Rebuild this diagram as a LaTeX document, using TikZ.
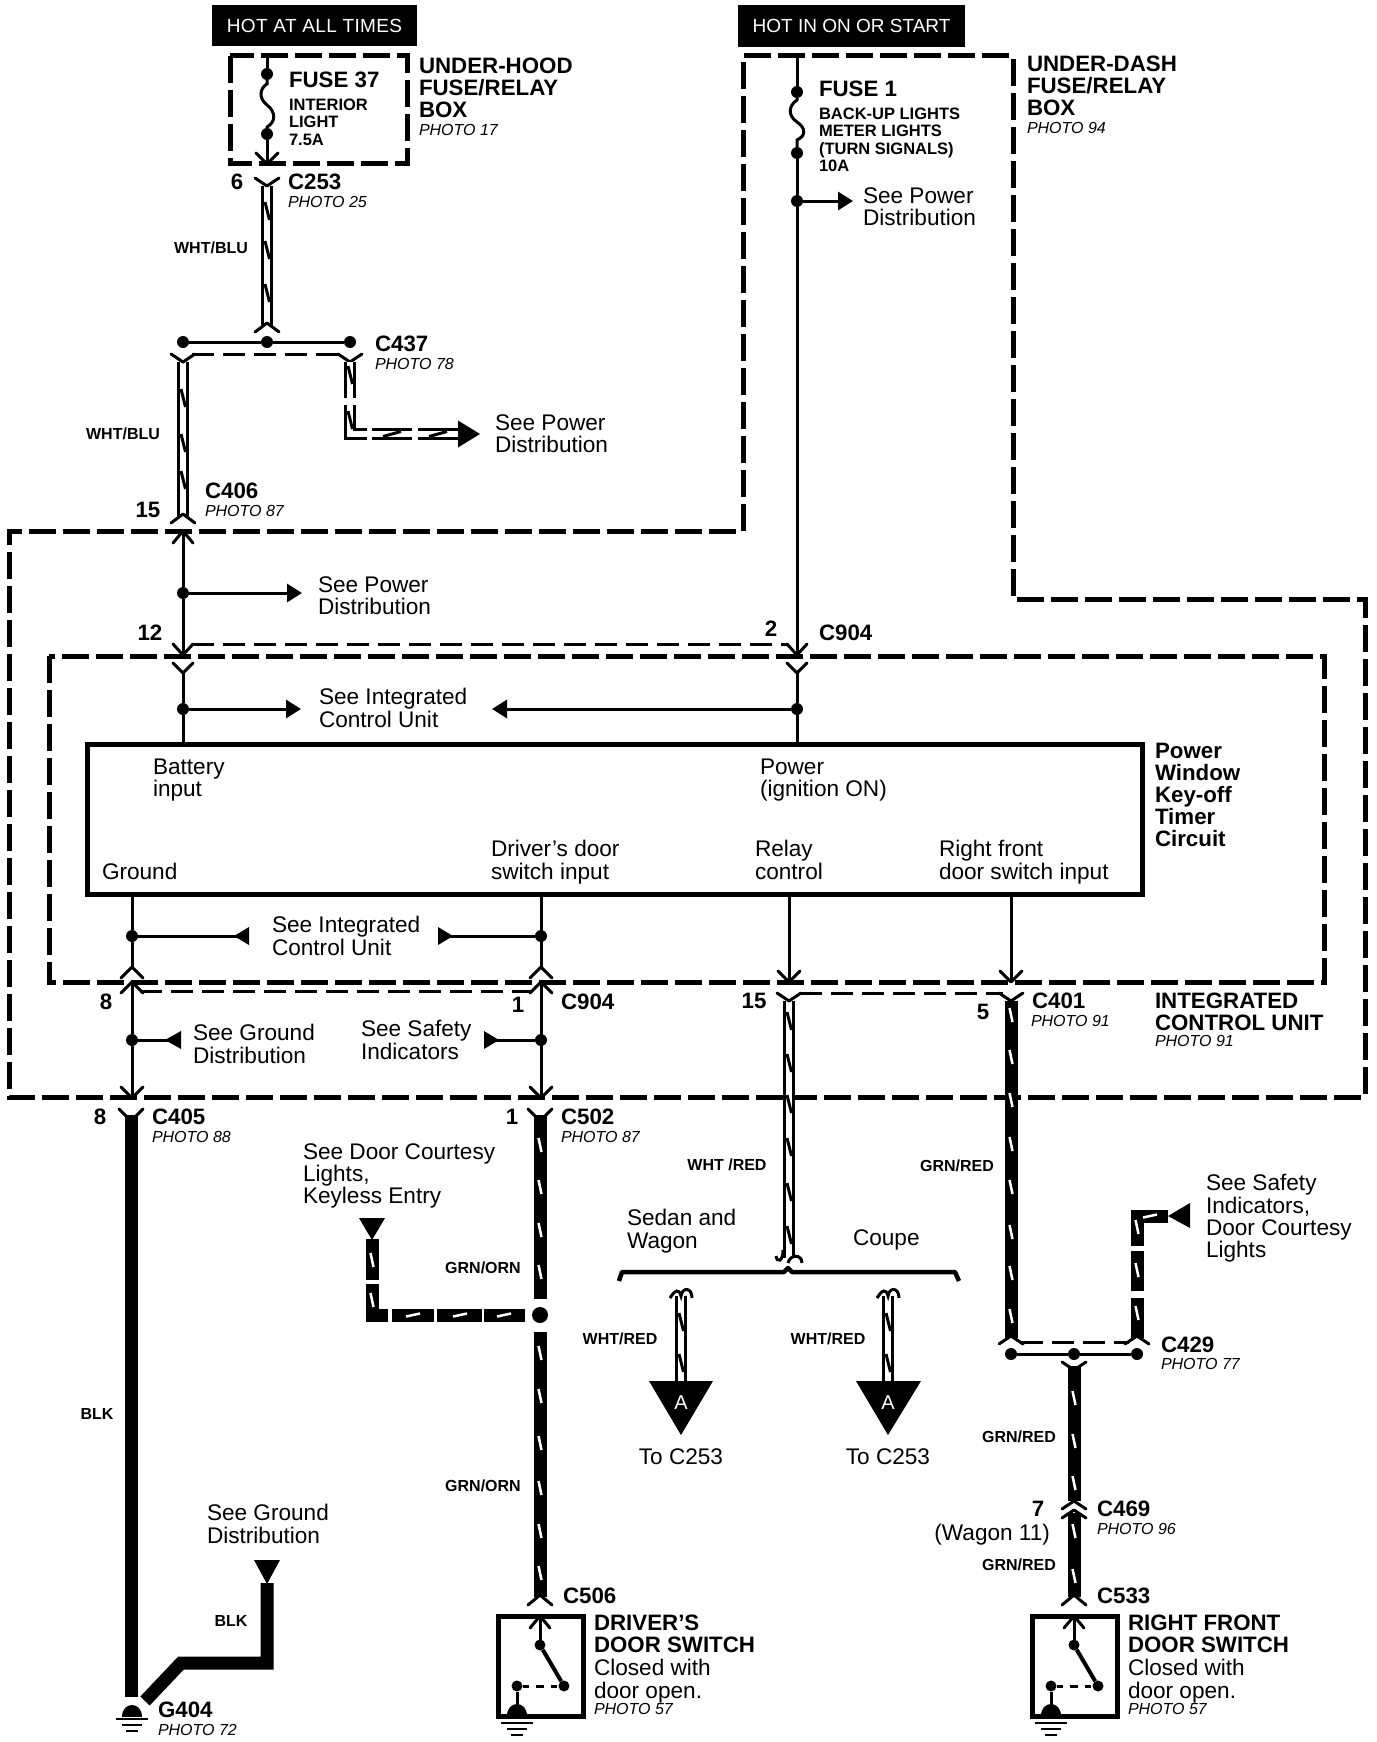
\documentclass[tikz,border=0pt]{standalone}
\usepackage{fontspec}
\setmainfont{Liberation Sans}
\usetikzlibrary{arrows.meta}
\tikzset{
 txt/.style={inner sep=0pt,outer sep=0pt,anchor=north west,align=left,yshift=7.4pt,font=\fontsize{22.6}{22.2}\selectfont},
 bld/.style={inner sep=0pt,outer sep=0pt,anchor=north west,align=left,yshift=7.9pt,font=\fontsize{22.3}{22}\selectfont\bfseries},
 sbld/.style={inner sep=0pt,outer sep=0pt,anchor=north west,align=left,yshift=6pt,font=\fontsize{16.5}{17.3}\selectfont\bfseries},
 ital/.style={inner sep=0pt,outer sep=0pt,anchor=north west,yshift=5.8pt,font=\fontsize{16}{16}\selectfont\itshape},
 wlab/.style={inner sep=0pt,outer sep=0pt,anchor=north,yshift=5.8pt,font=\fontsize{16}{16}\selectfont\bfseries},
 ctxt/.style={txt,anchor=north,align=center},
 pin/.style={bld,anchor=north},
 hotbox/.style={fill=black,text=white,inner sep=0pt,outer sep=0pt},
 thin wire/.style={line width=3pt},
 dashbox/.style={line width=5pt,dash pattern=on 27pt off 7pt,miter limit=10},
 thindash/.style={line width=3pt,dash pattern=on 22pt off 9pt},
 wwire/.style={line width=3pt,double=white,double distance=5.5pt},
 bwire/.style={line width=13pt},
 wtick/.style={line width=3pt},
 btick/.style={line width=2.5pt,white},
 forkline/.style={line width=3pt,line join=round,line cap=round},
 jdot/.style={circle,fill=black,inner sep=0pt,outer sep=0pt,minimum size=12pt},
 bigdot/.style={jdot,minimum size=16pt},
 smalltri/.style={-{Triangle[length=15pt,width=18pt]}},
 bigtri/.style={-{Triangle[length=22pt,width=27pt]}},
 swbox/.style={draw,line width=5pt,inner sep=0pt,outer sep=0pt,minimum width=85pt,minimum height=100pt},
}
\newcommand\forkat[4]{\draw[forkline] (#1-#3,#2-#4) -- (#1,#2) -- (#1+#3,#2-#4);}
\newcommand\wtk[2]{\draw[wtick] (#1-2,#2-9) -- (#1+2.5,#2+9);}
\newcommand\wtkh[2]{\draw[wtick] (#1-9,#2+2.5) -- (#1+9,#2-2.5);}
\newcommand\btk[2]{\draw[btick] (#1-1.5,#2-7) -- (#1+1.5,#2+7);}
\newcommand\btkh[2]{\draw[btick] (#1-7,#2+1.5) -- (#1+7,#2-1.5);}
\newcommand\gnd[3]{% x, dome base y, first line y
 \fill (#1-10,#2) .. controls (#1-10,#2-16) and (#1+10,#2-16) .. (#1+10,#2) -- cycle;
 \draw[line width=2.5pt] (#1-16,#3) -- (#1+16,#3) (#1-10,#3+6) -- (#1+10,#3+6) (#1-6,#3+12) -- (#1+6,#3+12);}
\newcommand\doorsw[2]{% prefix, x
 \node[swbox] (#1box) at (#2+0.5,1666) {};
 \coordinate (#1top) at (#2,1616);
 \node[jdot,minimum size=11pt] (#1a) at (#2,1645) {};
 \node[jdot,minimum size=11pt] (#1b) at (#2+24,1686) {};
 \node[jdot,minimum size=11pt] (#1c) at (#2-23,1686) {};
 \coordinate (#1g) at (#2-23,1716);
 \draw[thin wire] (#1top) -- (#1a);
 \draw[line width=4pt] (#1a) -- (#1b);
 \draw[line width=3pt,dash pattern=on 6pt off 7pt on 8pt off 7pt] (#1c) -- (#1b);
 \draw[thin wire] (#1c) -- (#1g);
 \forkat{#2}{1616}{10}{-12}
 \gnd{#2-23}{1716}{1723}}
\begin{document}
\begin{tikzpicture}[x=1pt,y=-1pt]
\useasboundingbox (0,0) rectangle (1376,1742);
% dashed enclosures
\draw[dashbox] (230,56) rectangle (407,163);
\draw[dashbox] (743,531) -- (743,56) -- (1013,56) -- (1013,599) -- (1365,599) -- (1365,1097) -- (9,1097) -- (9,531) -- cycle;
\draw[dashbox] (49,656) rectangle (1324,982);
% header bars
\node[hotbox,minimum width=205pt,minimum height=41pt,font=\fontsize{19}{19}\selectfont\addfontfeature{LetterSpace=2}] (hot1) at (314.5,25.5) {HOT AT ALL TIMES};
\node[hotbox,minimum width=227pt,minimum height=42pt,font=\fontsize{19}{19}\selectfont] (hot2) at (851.5,26) {HOT IN ON OR START};
% control box
\node[draw,line width=5pt,inner sep=0pt,outer sep=0pt,minimum width=1055pt,minimum height=150pt] (timer) at (614.5,819) {};
% ---- left column top
\coordinate (f1top) at (267,56);
\node[jdot] (f1a) at (267,74) {};
\node[jdot] (f1b) at (267,134) {};
\coordinate (f1end) at (267,164);
\draw[thin wire] (f1top) -- (f1a);
\draw[thin wire] (f1a) -- (267,84) .. controls (260,88) and (258,98) .. (267,105) .. controls (276,112) and (276,122) .. (267,127) -- (f1b);
\draw[thin wire] (f1b) -- (f1end);
\forkat{267}{164}{11}{11}
\coordinate (c253) at (267,186);
\coordinate (c253b) at (267,325);
\draw[wwire] (c253) -- (c253b);
\foreach \y in {211,250,293} {\wtk{267}{\y}}
\forkat{267}{186}{12}{8}
\forkat{267}{323}{12}{-9}
\node[jdot] (bus1) at (183,342) {};
\node[jdot] (bus2) at (267,342) {};
\node[jdot] (bus3) at (350,342) {};
\draw[thin wire] (bus1) -- (bus2);
\draw[thin wire] (bus2) -- (bus3);
\coordinate (d437a) at (192,354);
\coordinate (d437b) at (342,354);
\draw[thindash] (d437a) -- (d437b);
\coordinate (w2t) at (183,362);
\coordinate (w2b) at (183,516);
\draw[wwire] (w2t) -- (w2b);
\foreach \y in {398,443,480} {\wtk{183}{\y}}
\forkat{183}{362}{12}{8}
\forkat{350}{362}{12}{8}
\forkat{183}{514}{12}{-9}
\coordinate (w3t) at (350,362);
\coordinate (w3m) at (350,398);
\coordinate (w3n) at (350,405);
\coordinate (w3c) at (350,434);
\coordinate (w3d) at (367,434);
\coordinate (w3e) at (372,434);
\coordinate (w3f) at (412,434);
\coordinate (w3g) at (418,434);
\coordinate (w3h) at (460,434);
\draw[wwire] (w3t) -- (w3m);
\draw[wwire] (w3n) -- (w3c) -- (w3d);
\draw[wwire] (w3e) -- (w3f);
\draw[wwire] (w3g) -- (w3h);
\foreach \y in {375,420} {\wtk{350}{\y}}
\foreach \x in {392,438} {\wtkh{\x}{434}}
\fill (458,420.5) -- (480,434) -- (458,447.5) -- cycle;
% ---- between boundaries, left
\coordinate (s1t) at (183,531);
\coordinate (s1b) at (183,655);
\node[jdot] (s1d) at (183,593) {};
\coordinate (s1a) at (302,593);
\draw[thin wire] (s1t) -- (s1d);
\draw[thin wire] (s1d) -- (s1b);
\draw[thin wire,smalltri] (s1d) -- (s1a);
\forkat{183}{531}{10}{-12}
\forkat{183}{655}{10}{11}
\coordinate (dc1) at (192,644);
\coordinate (dc2) at (788,644);
\draw[thindash] (dc1) -- (dc2);
% ---- power feed
\coordinate (f2top) at (797,56);
\node[jdot] (f2a) at (797,92) {};
\node[jdot] (f2b) at (797,153) {};
\node[jdot] (f2c) at (797,201) {};
\coordinate (f2arrow) at (853,201);
\coordinate (f2end) at (797,655);
\draw[thin wire] (f2top) -- (f2a);
\draw[thin wire] (f2a) -- (797,100) .. controls (788,106) and (788,116) .. (797,122) .. controls (806,128) and (806,136) .. (797,140) -- (f2b);
\draw[thin wire] (f2b) -- (f2c);
\draw[thin wire] (f2c) -- (f2end);
\draw[thin wire,smalltri] (f2c) -- (f2arrow);
\forkat{797}{655}{10}{11}
% ---- inside ICU top
\coordinate (i1t) at (183,673);
\coordinate (i2t) at (797,673);
\node[jdot] (i1d) at (183,709) {};
\node[jdot] (i2d) at (797,709) {};
\coordinate (i1a) at (301,709);
\coordinate (i2a) at (492,709);
\draw[thin wire] (i1t) -- (i1d);
\draw[thin wire] (i2t) -- (i2d);
\draw[thin wire] (i1d) -- (i1d |- timer.north);
\draw[thin wire] (i2d) -- (i2d |- timer.north);
\draw[thin wire,smalltri] (i1d) -- (i1a);
\draw[thin wire,smalltri] (i2d) -- (i2a);
\forkat{183}{673}{10}{10}
\forkat{797}{673}{10}{10}
% ---- inside ICU bottom
\node[jdot] (g1d) at (132,936) {};
\node[jdot] (g2d) at (541,936) {};
\coordinate (g1a) at (234,936);
\coordinate (g2a) at (453,936);
\coordinate (g1e) at (132,967);
\coordinate (g2e) at (541,967);
\draw[thin wire] (g1d |- timer.south) -- (g1d);
\draw[thin wire] (g2d |- timer.south) -- (g2d);
\draw[thin wire] (g1d) -- (g1e);
\draw[thin wire] (g2d) -- (g2e);
\draw[thin wire] (g1d) -- (249,936);
\fill (249,927) -- (234,936) -- (249,945) -- cycle;
\draw[thin wire] (g2d) -- (438,936);
\fill (438,927) -- (453,936) -- (438,945) -- cycle;
\forkat{132}{967}{11}{-11}
\forkat{541}{967}{11}{-11}
\coordinate (r1t) at (789,894);
\coordinate (r1b) at (789,982);
\coordinate (r2t) at (1011,894);
\coordinate (r2b) at (1011,982);
\draw[thin wire] (r1t) -- (r1b);
\draw[thin wire] (r2t) -- (r2b);
\forkat{789}{982}{11}{11}
\forkat{1011}{982}{11}{11}
% ---- below ICU left
\coordinate (l1t) at (132,982);
\coordinate (l2t) at (541,982);
\coordinate (l1b) at (132,1098);
\coordinate (l2b) at (541,1098);
\node[jdot] (l1d) at (132,1040) {};
\node[jdot] (l2d) at (541,1040) {};
\draw[thin wire] (l1t) -- (l1d);
\draw[thin wire] (l2t) -- (l2d);
\draw[thin wire] (l1d) -- (l1b);
\draw[thin wire] (l2d) -- (l2b);
\draw[thin wire] (l1d) -- (181,1040);
\fill (181,1031) -- (165,1040) -- (181,1049) -- cycle;
\draw[thin wire] (l2d) -- (484,1040);
\fill (484,1031) -- (499,1040) -- (484,1049) -- cycle;
\forkat{132}{982}{11}{-11}
\forkat{541}{982}{11}{-11}
\forkat{132}{1098}{11}{11}
\forkat{541}{1098}{11}{11}
\coordinate (dd1) at (140,991);
\coordinate (dd2) at (533,991);
\draw[thindash] (dd1) -- (dd2);
\coordinate (dd3) at (800,993);
\coordinate (dd4) at (1003,993);
\draw[thindash] (dd3) -- (dd4);
% ---- ground wire
\coordinate (blk1t) at (131,1115);
\coordinate (blk1b) at (131,1697);
\draw[bwire] (blk1t) -- (blk1b);
\forkat{131}{1121}{12}{12}
\gnd{132}{1717}{1719}
\coordinate (blk2a) at (145,1701);
\coordinate (blk2b) at (181,1663);
\coordinate (blk2c) at (267,1663);
\coordinate (blk2d) at (267,1583);
\draw[bwire] (blk2a) -- (blk2b) -- (blk2c) -- (blk2d);
\fill (254,1560) -- (280,1560) -- (267,1584) -- cycle;
% ---- GRN/ORN
\coordinate (o1t) at (540,1115);
\coordinate (o1b) at (540,1299);
\node[bigdot] (o1d) at (540,1315) {};
\coordinate (o2t) at (540,1332);
\coordinate (o2b) at (540,1597);
\draw[bwire] (o1t) -- (o1b);
\draw[bwire] (o2t) -- (o2b);
\foreach \y in {1145,1187,1230,1272,1353,1396,1443,1488,1531,1573} {\btk{540}{\y}}
\forkat{540}{1121}{12}{12}
\forkat{540}{1595}{12}{-10}
\draw[bwire] (525,1315) -- (484,1315);
\draw[bwire] (482,1315) -- (437,1315);
\draw[bwire] (434,1315) -- (392,1315);
\draw[bwire] (388,1315) -- (372,1315) -- (372,1284);
\draw[bwire] (372,1280) -- (372,1239);
\foreach \x in {504,460,413} {\btkh{\x}{1315}}
\foreach \y in {1260,1300} {\btk{372}{\y}}
\fill (359,1218) -- (385,1218) -- (372,1240) -- cycle;
\doorsw{sw1}{540}
% ---- WHT/RED
\coordinate (w4t) at (789,1001);
\coordinate (w4b) at (789,1258);
\draw[wwire] (w4t) -- (w4b);
\foreach \y in {1021,1063,1104,1147,1192,1235} {\wtk{789}{\y}}
\forkat{789}{1001}{12}{8}
\draw[line width=3pt] (783,1250) .. controls (783,1262) and (777,1263) .. (776,1256);
\draw[line width=3pt] (788,1263) .. controls (790,1254) and (802,1254) .. (802,1263);
\draw[line width=4.5pt,line join=round] (619,1281) -- (622,1272) -- (784,1272) -- (788,1268) -- (792,1272) -- (955,1272) -- (959,1281);
\coordinate (w5t) at (681,1296);
\coordinate (w5b) at (681,1382);
\coordinate (w6t) at (888,1296);
\coordinate (w6b) at (888,1382);
\draw[wwire] (w5t) -- (w5b);
\draw[wwire] (w6t) -- (w6b);
\foreach \x in {681,888} {
 \foreach \y in {1322,1363} {\wtk{\x}{\y}}
 \draw[line width=3pt] (\x-11,1298) .. controls (\x-6,1290) and (\x-2,1288) .. (\x,1296) .. controls (\x+1,1287) and (\x+11,1287) .. (\x+11,1298);
}
\fill (649,1381) -- (713,1381) -- (681,1435) -- cycle;
\fill (856,1381) -- (921,1381) -- (888,1435) -- cycle;
\node[white,inner sep=0pt,font=\fontsize{20}{20}\selectfont] (a1) at (681,1403) {A};
\node[white,inner sep=0pt,font=\fontsize{20}{20}\selectfont] (a2) at (888,1403) {A};
% ---- GRN/RED
\coordinate (r3t) at (1011,1001);
\coordinate (r3b) at (1011,1338);
\draw[bwire] (r3t) -- (r3b);
\foreach \y in {1015,1057,1100,1144,1187,1232,1273,1316} {\btk{1011}{\y}}
\forkat{1011}{1001}{12}{8}
\forkat{1011}{1336}{12}{-8}
\forkat{1137}{1336}{12}{-8}
\node[jdot] (b1) at (1011,1354) {};
\node[jdot] (b2) at (1074,1354) {};
\node[jdot] (b3) at (1137,1354) {};
\draw[thin wire] (b1) -- (b2);
\draw[thin wire] (b2) -- (b3);
\coordinate (d429a) at (1021,1342);
\coordinate (d429b) at (1129,1342);
\draw[thindash] (d429a) -- (d429b);
\draw[bwire] (1137,1338) -- (1137,1298);
\draw[bwire] (1137,1291) -- (1137,1251);
\draw[bwire] (1137,1246) -- (1137,1216) -- (1168,1216);
\foreach \y in {1313,1270,1227} {\btk{1137}{\y}}
\btkh{1150}{1216}
\fill (1190,1203) -- (1168,1216) -- (1190,1228) -- cycle;
\coordinate (g3t) at (1074,1366);
\coordinate (g3b) at (1074,1501);
\coordinate (g4t) at (1074,1513);
\coordinate (g4b) at (1074,1597);
\draw[bwire] (g3t) -- (g3b);
\draw[bwire] (g4t) -- (g4b);
\foreach \y in {1398,1441,1483,1531,1576} {\btk{1074}{\y}}
\forkat{1074}{1370}{12}{8}
\forkat{1074}{1501}{12}{-8}
\forkat{1074}{1510}{12}{-8}
\forkat{1074}{1595}{12}{-10}
\doorsw{sw2}{1074}
% ---- texts
\node[bld] (t1) at (289,79.5) {FUSE 37};
\node[sbld] (t2) at (289,105) {INTERIOR\\LIGHT\\7.5A};
\node[bld] (t3) at (419,66) {UNDER-HOOD\\FUSE/RELAY\\BOX};
\node[ital] (t4) at (419,130) {PHOTO 17};
\node[pin] (t5) at (237,182) {6};
\node[bld] (t6) at (288,182) {C253};
\node[ital] (t7) at (288,202) {PHOTO 25};
\node[wlab] (t8) at (211,248) {WHT/BLU};
\node[bld] (t9) at (375,344) {C437};
\node[ital] (t10) at (375,364) {PHOTO 78};
\node[wlab] (t11) at (123,434) {WHT/BLU};
\node[txt] (t12) at (495,422) {See Power\\Distribution};
\node[pin] (t13) at (148,510) {15};
\node[bld] (t14) at (205,491) {C406};
\node[ital] (t15) at (205,511) {PHOTO 87};
\node[txt] (t16) at (318,584) {See Power\\Distribution};
\node[pin] (t17) at (150,633) {12};
\node[pin] (t18) at (771,629) {2};
\node[bld] (t19) at (819,633) {C904};
\node[bld] (t20) at (819,88.5) {FUSE 1};
\node[sbld] (t21) at (819,114) {BACK-UP LIGHTS\\METER LIGHTS\\(TURN SIGNALS)\\10A};
\node[txt] (t22) at (863,195) {See Power\\Distribution};
\node[bld] (t23) at (1027,64) {UNDER-DASH\\FUSE/RELAY\\BOX};
\node[ital] (t24) at (1027,128) {PHOTO 94};
\node[txt] (t25) at (319,696) {See Integrated\\Control Unit};
\node[txt] (t26) at (153,766) {Battery\\input};
\node[txt] (t27) at (760,766) {Power\\(ignition ON)};
\node[txt] (t28) at (102,871) {Ground};
\node[txt] (t29) at (491,848) {Driver’s door\\switch input};
\node[txt] (t30) at (755,848) {Relay\\control};
\node[txt] (t31) at (939,848) {Right front\\door switch input};
\node[bld] (t32) at (1155,751) {Power\\Window\\Key-off\\Timer\\Circuit};
\node[txt] (t33) at (272,924) {See Integrated\\Control Unit};
\node[pin] (t34) at (106,1002) {8};
\node[pin] (t35) at (518,1005) {1};
\node[bld] (t36) at (561,1002) {C904};
\node[txt] (t37) at (193,1032) {See Ground\\Distribution};
\node[txt] (t38) at (361,1028) {See Safety\\Indicators};
\node[pin] (t39) at (754,1001) {15};
\node[pin] (t40) at (983,1012) {5};
\node[bld] (t41) at (1032,1001) {C401};
\node[ital] (t42) at (1031,1021) {PHOTO 91};
\node[bld] (t43) at (1155,1000.5) {INTEGRATED\\CONTROL UNIT};
\node[ital] (t44) at (1155,1041) {PHOTO 91};
\node[pin] (t45) at (100,1117) {8};
\node[bld] (t46) at (152,1117) {C405};
\node[ital] (t47) at (152,1137) {PHOTO 88};
\node[pin] (t48) at (512,1117) {1};
\node[bld] (t49) at (561,1117) {C502};
\node[ital] (t50) at (561,1137) {PHOTO 87};
\node[txt] (t51) at (303,1151) {See Door Courtesy\\Lights,\\Keyless Entry};
\node[wlab] (t52) at (483,1268) {GRN/ORN};
\node[wlab] (t53) at (483,1486) {GRN/ORN};
\node[wlab] (t54) at (727,1165) {WHT /RED};
\node[wlab] (t55) at (957,1166) {GRN/RED};
\node[txt] (t56) at (627,1217) {Sedan and\\Wagon};
\node[txt] (t57) at (853,1237) {Coupe};
\node[wlab] (t58) at (620,1339) {WHT/RED};
\node[wlab] (t59) at (828,1339) {WHT/RED};
\node[ctxt] (t60) at (681,1456) {To C253};
\node[ctxt] (t61) at (888,1456) {To C253};
\node[txt] (t62) at (1206,1182) {See Safety\\Indicators,\\Door Courtesy\\Lights};
\node[bld] (t63) at (1161,1345) {C429};
\node[ital] (t64) at (1161,1364) {PHOTO 77};
\node[wlab] (t65) at (1019,1437) {GRN/RED};
\node[pin] (t66) at (1038,1509) {7};
\node[txt,anchor=north east] (t67) at (1050,1532) {(Wagon 11)};
\node[bld] (t68) at (1097,1509) {C469};
\node[ital] (t69) at (1097,1529) {PHOTO 96};
\node[wlab] (t70) at (1019,1565) {GRN/RED};
\node[wlab] (t71) at (97,1414) {BLK};
\node[wlab] (t72) at (231,1621) {BLK};
\node[txt] (t73) at (207,1512) {See Ground\\Distribution};
\node[bld] (t74) at (158,1710) {G404};
\node[ital] (t75) at (158,1730) {PHOTO 72};
\node[bld] (t76) at (563,1596) {C506};
\node[bld] (t77) at (594,1622.5) {DRIVER’S\\DOOR SWITCH};
\node[txt] (t78) at (594,1667) {Closed with\\door open.};
\node[ital] (t79) at (594,1709) {PHOTO 57};
\node[bld] (t80) at (1097,1596) {C533};
\node[bld] (t81) at (1128,1622.5) {RIGHT FRONT\\DOOR SWITCH};
\node[txt] (t82) at (1128,1667) {Closed with\\door open.};
\node[ital] (t83) at (1128,1709) {PHOTO 57};
\end{tikzpicture}
\end{document}
